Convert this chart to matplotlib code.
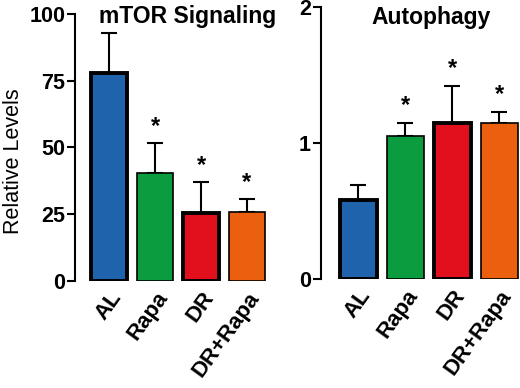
import numpy as np
import matplotlib.pyplot as plt

plt.rcParams['font.family'] = ['Liberation Sans', 'DejaVu Sans']

groups = ['AL', 'Rapa', 'DR', 'DR+Rapa']
colors = ['#1f63ad', '#0a9c3e', '#e2101d', '#ea600f']
edge_w = [2.8, 1.2, 2.8, 1.2]

mtor_mean = [78, 40.5, 25.5, 26]
mtor_err = [14.7, 11, 11.5, 4.5]
mtor_sig = [False, True, True, True]

auto_mean = [0.58, 1.05, 1.15, 1.15]
auto_err = [0.11, 0.1, 0.27, 0.08]
auto_sig = [False, True, True, True]

fig = plt.figure(figsize=(5.2, 3.88), dpi=100)
ax1 = fig.add_axes([0.144, 0.276, 0.375, 0.688])
ax2 = fig.add_axes([0.617, 0.281, 0.383, 0.701])


def panel(ax, mean, err, sig, ylim, yticks, xlim):
    x = np.arange(len(groups))
    ax.bar(x, mean, width=0.78, color=colors, edgecolor='black', linewidth=edge_w, zorder=3)
    ax.errorbar(x, mean, yerr=[np.zeros(len(err)), err], fmt='none', ecolor='black',
                elinewidth=1.5, capsize=5.5, capthick=1.5, zorder=2)
    for xi, m, e, s in zip(x, mean, err, sig):
        if s:
            ax.annotate('*', (xi, m + e), xytext=(0, 4), textcoords='offset points',
                        ha='center', va='bottom', fontsize=17, fontweight='bold')
    ax.set_xlim(*xlim)
    ax.set_ylim(*ylim)
    ax.set_yticks(yticks)
    ax.set_yticklabels([str(t) for t in yticks], fontsize=15.5, fontweight='bold')
    ax.set_xticks(x)
    ax.set_xticklabels(groups, rotation=54, ha='right', rotation_mode='anchor',
                       fontsize=16, fontweight='bold')
    ax.tick_params(axis='x', length=0, pad=5)
    ax.tick_params(axis='y', length=6, width=1.5, pad=1)
    for s in ['top', 'right', 'bottom']:
        ax.spines[s].set_visible(False)
    ax.spines['left'].set_linewidth(1.5)
    ax.patch.set_alpha(0)


panel(ax1, mtor_mean, mtor_err, mtor_sig, (0, 100), [0, 25, 50, 75, 100], (-0.75, 3.5))
panel(ax2, auto_mean, auto_err, auto_sig, (0, 2), [0, 1, 2], (-0.8, 3.44))

fig.text(0.361, 1 - 23 / 388, 'mTOR Signaling', ha='center', va='baseline',
         fontsize=16.5, fontweight='bold')
fig.text(0.829, 1 - 24 / 388, 'Autophagy', ha='center', va='baseline',
         fontsize=16.5, fontweight='bold')

ax1.set_ylabel('Relative Levels', fontsize=15.5)
ax1.yaxis.set_label_coords(-0.26, 0.448)

fig.savefig('out.png', dpi=100)
